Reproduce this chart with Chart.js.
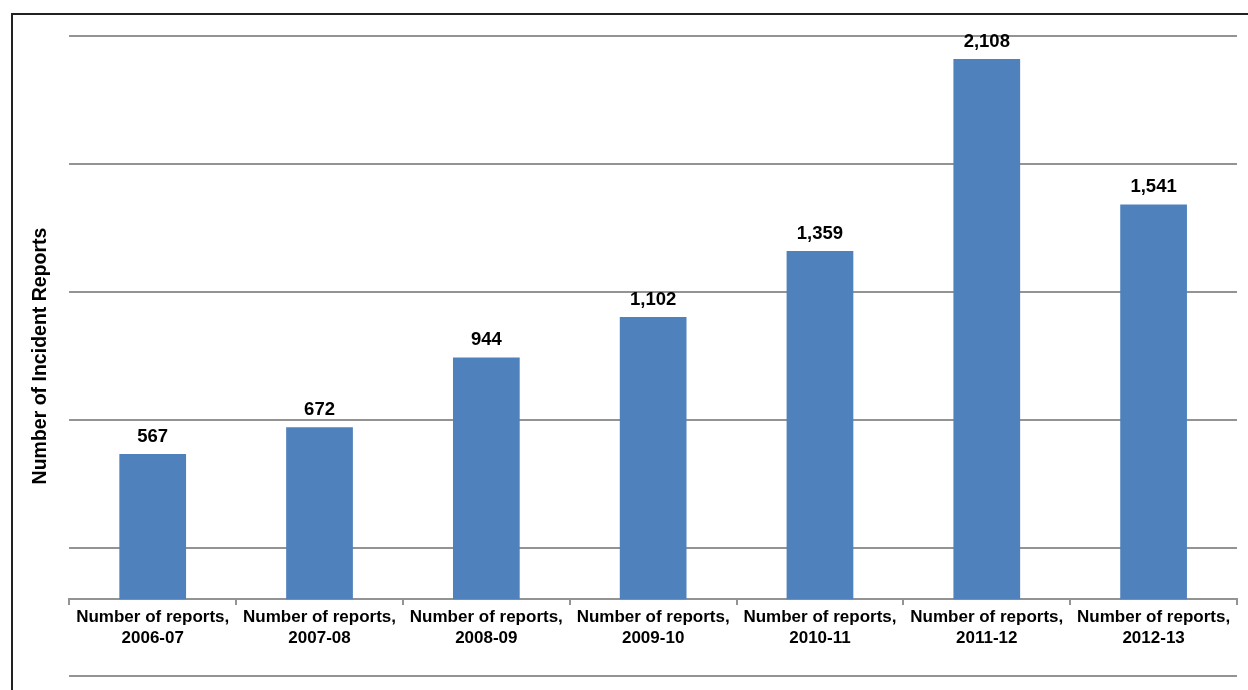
<!DOCTYPE html>
<html lang="en">

<head>
    <meta charset="UTF-8">
    <meta name="viewport" content="width=device-width, initial-scale=1.0">
    <title>Incident Reports</title>
    <script src="https://cdn.jsdelivr.net/npm/chart.js"></script>
    <style>
        html, body { margin: 0; padding: 0; background: #fff; overflow: hidden; }
        #wrap { position: relative; width: 1248px; height: 690px; }
        #frame {
            position: absolute; left: 11px; top: 13px; width: 1300px; height: 700px;
            border-left: 2px solid #222; border-top: 2px solid #222;
        }
        canvas { position: absolute; left: 0; top: 0; }
    </style>
</head>

<body>
    <div id="wrap">
        <div id="frame"></div>
        <canvas id="myChart" width="1248" height="690"></canvas>
    </div>

    <script>
        const years = ['2006-07', '2007-08', '2008-09', '2009-10', '2010-11', '2011-12', '2012-13'];
        const reports = [567, 672, 944, 1102, 1359, 2108, 1541];
        const yTitle = 'Number of Incident Reports';

        const labels = years.map(y => ['Number of reports,', y]);
        const fontFamily = '"Liberation Sans", Arial, sans-serif';
        const gridColor = '#939393';

        // value labels above each bar
        const barLabels = {
            id: 'barLabels',
            afterDatasetsDraw(chart) {
                const ctx = chart.ctx;
                const meta = chart.getDatasetMeta(0);
                ctx.save();
                ctx.font = 'bold 18.5px ' + fontFamily;
                ctx.fillStyle = '#000';
                ctx.textAlign = 'center';
                ctx.textBaseline = 'alphabetic';
                meta.data.forEach((bar, i) => {
                    ctx.fillText(reports[i].toLocaleString('en-US'), bar.x, bar.y - 12);
                });
                ctx.restore();
            }
        };

        const ctx = document.getElementById('myChart').getContext('2d');
        const myChart = new Chart(ctx, {
            type: 'bar',
            data: {
                labels: labels,
                datasets: [{
                    label: 'Number of reports',
                    data: reports,
                    backgroundColor: '#4F81BD',
                    borderWidth: 0,
                    barPercentage: 0.4,
                    categoryPercentage: 1,
                    yAxisID: 'y'
                }]
            },
            options: {
                responsive: false,
                animation: false,
                layout: { padding: { left: 28.6, right: 11, top: 36, bottom: 14 } },
                plugins: {
                    legend: { display: false },
                    tooltip: { enabled: false }
                },
                scales: {
                    x: {
                        position: { y: 0 },
                        grid: {
                            drawOnChartArea: false,
                            drawTicks: true,
                            tickLength: 5,
                            color: gridColor,
                            lineWidth: 2
                        },
                        border: { display: true, color: gridColor, width: 2 },
                        ticks: {
                            color: '#000',
                            font: { family: fontFamily, size: 17, weight: 'bold' },
                            padding: 3,
                            maxRotation: 0,
                            autoSkip: false
                        }
                    },
                    y: {
                        display: false,
                        min: -299,
                        max: 2198
                    },
                    y2: {
                        position: 'left',
                        min: 0,
                        max: 2500,
                        ticks: { display: false, stepSize: 500 },
                        grid: { color: gridColor, lineWidth: 2, drawTicks: false },
                        border: { display: false },
                        title: {
                            display: true,
                            text: yTitle,
                            color: '#000',
                            font: { family: fontFamily, size: 19.5, weight: 'bold' },
                            padding: { top: 0, bottom: 17.3 }
                        }
                    }
                }
            },
            plugins: [barLabels]
        });
    </script>
</body>

</html>
